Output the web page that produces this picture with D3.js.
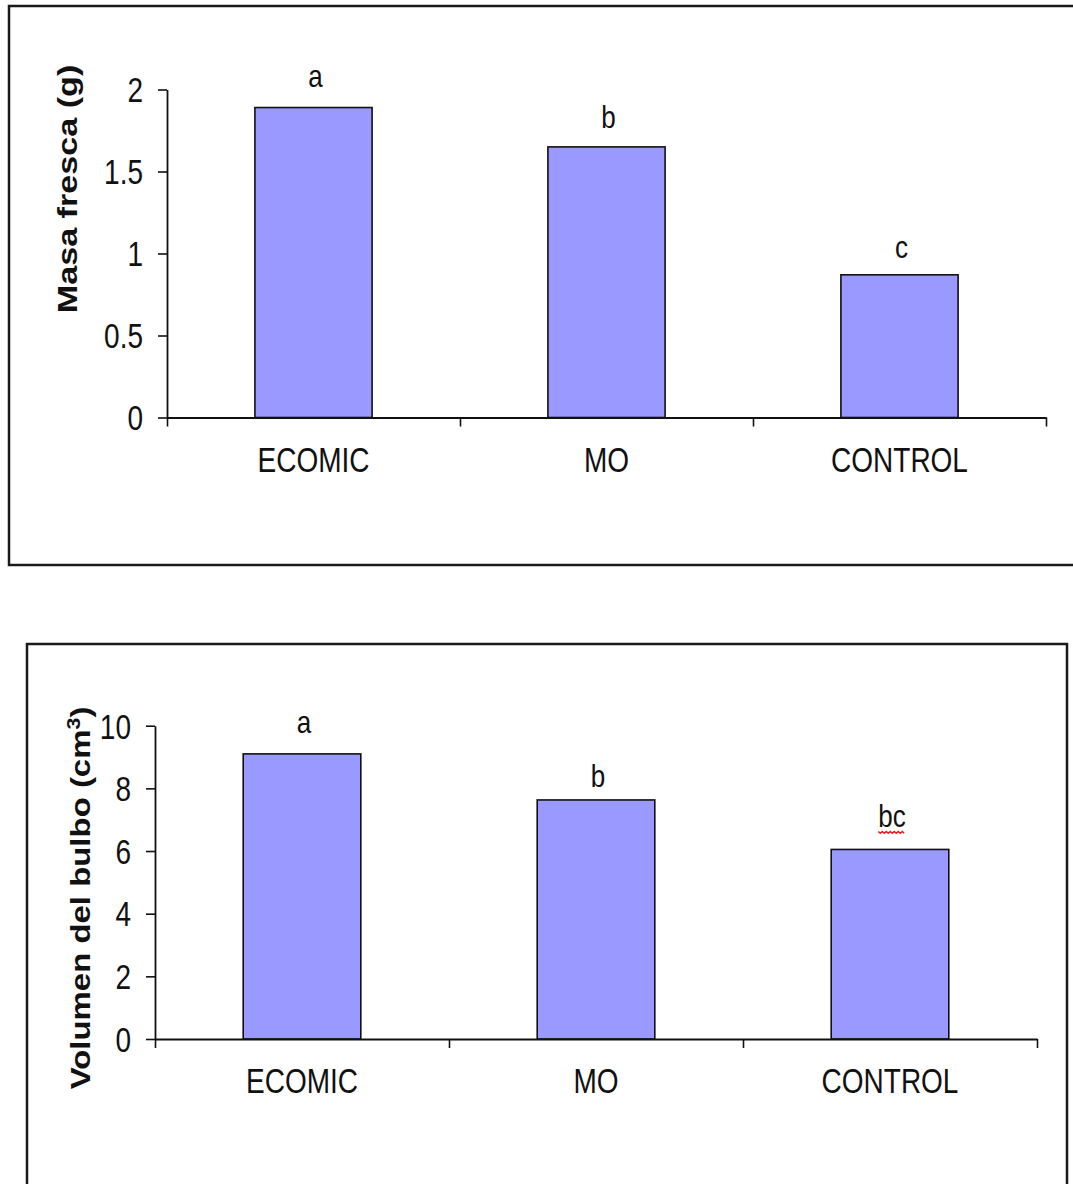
<!DOCTYPE html>
<html>
<head>
<meta charset="utf-8">
<script src="https://cdn.jsdelivr.net/npm/d3@7"></script>
<style>
  body { margin: 0; background: #fff; }
  svg { display: block; }
  text { font-family: "Liberation Sans", Arial, sans-serif; fill: #111; }
</style>
</head>
<body>
<script>
// data
var categories = ["ECOMIC", "MO", "CONTROL"]
var masaValues = [1.89, 1.65, 0.87]
var masaLetters = ["a", "b", "c"]
var masaTicks = [0, 0.5, 1, 1.5, 2]
var volValues = [9.1, 7.63, 6.05]
var volLetters = ["a", "b", "bc"]
var volTicks = [0, 2, 4, 6, 8, 10]

var width = 1073, height = 1184
var stretch = 1.22   // the picture is stretched vertically, so text is too

var svg = d3.select("body").append("svg")
  .attr("width", width)
  .attr("height", height)

function drawChart(opt) {
  var g = svg.append("g")

  // outer frame
  g.append("rect")
    .attr("x", opt.frame.x).attr("y", opt.frame.y)
    .attr("width", opt.frame.w).attr("height", opt.frame.h)
    .attr("fill", "none").attr("stroke", "#1a1a1a").attr("stroke-width", 2.5)

  var x = d3.scaleBand()
    .domain(categories)
    .range([opt.x0, opt.x1])
    .paddingInner(0.6)
    .paddingOuter(0.3)

  var y = d3.scaleLinear()
    .domain([0, d3.max(opt.ticks)])
    .range([opt.yBase, opt.yTop])

  var xIdx = d3.scaleLinear().domain([0, categories.length]).range([opt.x0, opt.x1])

  // bars
  g.selectAll("rect.bar")
    .data(opt.values)
    .enter().append("rect")
    .attr("class", "bar")
    .attr("x", function (d, i) { return x(categories[i]) })
    .attr("y", function (d) { return y(d) })
    .attr("width", x.bandwidth())
    .attr("height", function (d) { return y(0) - y(d) })
    .attr("fill", "#9999ff")
    .attr("stroke", "#111")
    .attr("stroke-width", 1.6)

  // y axis
  var yAxis = g.append("g")
    .attr("transform", "translate(" + opt.x0 + ",0)")
    .call(d3.axisLeft(y).tickValues(opt.ticks).tickSize(9).tickSizeOuter(0).tickPadding(15)
      .tickFormat(function (d) { return String(d) }))
  yAxis.select(".domain").attr("stroke", "#111").attr("stroke-width", 1.8)
  yAxis.selectAll(".tick line").attr("stroke", "#111").attr("stroke-width", 1.6)
  yAxis.selectAll(".tick text")
    .attr("font-size", 28)
    .attr("font-family", "'Liberation Sans', Arial, sans-serif")
    .attr("fill", "#111")
    .attr("dy", "0.36em")
    .attr("transform", "scale(1," + stretch + ")")

  // x axis: tick marks between categories
  var xTicks = g.append("g")
    .attr("transform", "translate(0," + opt.yBase + ")")
    .call(d3.axisBottom(xIdx).tickValues(d3.range(categories.length + 1)).tickSize(9)
      .tickSizeOuter(0).tickFormat(""))
  xTicks.select(".domain").attr("stroke", "#111").attr("stroke-width", 1.8)
  xTicks.selectAll(".tick line").attr("stroke", "#111").attr("stroke-width", 1.6)

  // category labels
  var xLabels = g.append("g")
    .attr("transform", "translate(0," + opt.yBase + ")")
    .call(d3.axisBottom(x).tickSize(0))
  xLabels.select(".domain").remove()
  xLabels.selectAll(".tick text")
    .attr("font-size", 28)
    .attr("font-family", "'Liberation Sans', Arial, sans-serif")
    .attr("fill", "#111")
    .attr("y", 0).attr("dy", 0)
    .attr("transform", "translate(0,54) scale(1," + stretch + ")")

  // letters above the bars
  var letters = g.selectAll("text.letter")
    .data(opt.letters)
    .enter().append("text")
    .attr("class", "letter")
    .attr("text-anchor", "middle")
    .attr("font-size", 26)
    .attr("transform", function (d, i) {
      return "translate(" + (x(categories[i]) + x.bandwidth() / 2 + 2) + "," + (y(opt.values[i]) - opt.letterGap[i]) + ") scale(1," + stretch + ")"
    })
    .text(function (d) { return d })

  // y title
  var title = g.append("text")
    .attr("text-anchor", "middle")
    .attr("font-size", opt.titleSize)
    .attr("font-weight", "bold")
    .attr("transform", "translate(" + opt.titleX + "," + opt.titleY + ") scale(1," + stretch + ") rotate(-90)")
  opt.title(title)

  return { x: x, y: y, letters: letters }
}

drawChart({
  frame: { x: 9, y: 6, w: 1090, h: 559 },
  x0: 167, x1: 1046, yBase: 417.5, yTop: 89.5,
  values: masaValues, letters: masaLetters, ticks: masaTicks,
  letterGap: [21, 19, 17],
  titleX: 77, titleY: 189, titleSize: 28,
  title: function (t) { t.text("Masa fresca (g)") }
})

var bottom = drawChart({
  frame: { x: 27, y: 644, w: 1040, h: 600 },
  x0: 155, x1: 1037, yBase: 1039, yTop: 725.7,
  values: volValues, letters: volLetters, ticks: volTicks,
  letterGap: [21, 13, 22],
  titleX: 90, titleY: 898, titleSize: 27,
  title: function (t) {
    t.append("tspan").text("Volumen del bulbo (cm")
    t.append("tspan").attr("font-size", "0.65em").attr("dy", "-0.55em").text("3")
    t.append("tspan").attr("dy", "0.36em").text(")")
  }
})

// red spell-check squiggle under "bc"
bottom.letters.filter(function (d) { return d === "bc" }).each(function () {
  var b = this.getBBox()
  var m = this.getCTM()
  var left = m.e + b.x, right = m.e + b.x + b.width
  var yb = m.f + 4
  var pts = []
  for (var px = left, k = 0; px <= right; px += 2, k++) {
    pts.push([px, yb + (k % 2 === 0 ? 0 : 1.8)])
  }
  svg.append("path")
    .attr("d", d3.line()(pts))
    .attr("fill", "none")
    .attr("stroke", "#e02020")
    .attr("stroke-width", 1.4)
})
</script>
</body>
</html>
